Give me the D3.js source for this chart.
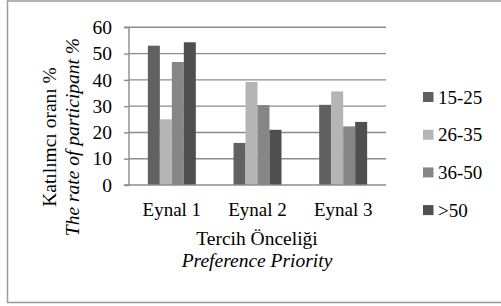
<!DOCTYPE html>
<html><head><meta charset="utf-8">
<script src="https://cdn.jsdelivr.net/npm/d3@7"></script>
<style>body{margin:0;background:#fff}svg{display:block}svg text{font-family:"Liberation Serif","Times New Roman",Tinos,"DejaVu Serif",serif !important;fill:#000}</style>
</head><body>
<script>
const categories = ["Eynal 1", "Eynal 2", "Eynal 3"];
const seriesNames = ["15-25", "26-35", "36-50", ">50"];
const s1525 = [53.0, 16.0, 30.5];
const s2635 = [25.0, 39.2, 35.6];
const s3650 = [46.8, 30.4, 22.3];
const s50 = [54.3, 21.0, 24.0];
const yTicks = [0, 10, 20, 30, 40, 50, 60];
const colors = ["#616161", "#b5b5b5", "#868686", "#4f4f4f"];
const seriesValues = [s1525, s2635, s3650, s50];

const W = 501, H = 306;
const svg = d3.select("body").append("svg").attr("width", W).attr("height", H);

// outer frame
svg.append("rect").attr("x", 7.5).attr("y", 1).attr("width", 510).attr("height", 301.5)
  .attr("fill", "none").attr("stroke", "#9a9a9a").attr("stroke-width", 1.5);

const pL = 129, pR = 386, pT = 27.3, pB = 185;
const x0 = d3.scaleBand().domain(categories).range([pL, pR]).paddingInner(0.44).paddingOuter(0.22);
const x1 = d3.scaleBand().domain(seriesNames).range([0, x0.bandwidth()]);
const y = d3.scaleLinear().domain([0, 60]).range([pB, pT]);

// gridlines
svg.append("g").selectAll("line").data(yTicks.filter(d => d > 0)).join("line")
  .attr("x1", pL).attr("x2", pR).attr("y1", d => y(d)).attr("y2", d => y(d))
  .attr("stroke", "#8c8c8c").attr("stroke-width", 1.4);

// bars
const rows = categories.map((c, i) => ({cat: c, vals: seriesNames.map((s, j) => ({s, v: seriesValues[j][i], j}))}));
svg.append("g").selectAll("g").data(rows).join("g")
  .attr("transform", d => `translate(${x0(d.cat)},0)`)
  .selectAll("rect").data(d => d.vals).join("rect")
  .attr("x", d => x1(d.s)).attr("width", x1.bandwidth())
  .attr("y", d => y(d.v)).attr("height", d => y(0) - y(d.v))
  .attr("fill", d => colors[d.j]);

// y axis
const yAxis = d3.axisLeft(y).tickValues(yTicks).tickSize(5).tickPadding(12).tickFormat(d3.format("d"));
const ga = svg.append("g").attr("transform", `translate(${pL},0)`).call(yAxis);
ga.attr("font-family", null);
ga.select(".domain").attr("stroke", "#8c8c8c").attr("stroke-width", 1.4).attr("d", `M-5,${pT}H0V${pB}H-5`);
ga.selectAll(".tick line").attr("stroke", "#8c8c8c").attr("stroke-width", 1.4);
ga.selectAll(".tick text").attr("font-size", 19.5).attr("fill", "#000");

// x axis line
svg.append("line").attr("x1", pL).attr("x2", pR).attr("y1", pB).attr("y2", pB)
  .attr("stroke", "#8c8c8c").attr("stroke-width", 1.4);

// x labels
const xAxis = d3.axisBottom(x0).tickSize(0).tickPadding(0);
const gx = svg.append("g").attr("transform", `translate(0,${pB})`).call(xAxis);
gx.attr("font-family", null);
gx.select(".domain").remove();
gx.selectAll(".tick text").attr("dy", null).attr("y", 31).attr("font-size", 19).attr("fill", "#000");

// x title
svg.append("text").attr("x", 257).attr("y", 245).attr("text-anchor", "middle").attr("font-size", 19.5).text("Tercih Önceliği");
svg.append("text").attr("x", 257).attr("y", 267).attr("text-anchor", "middle").attr("font-size", 19.5).attr("font-style", "italic").text("Preference Priority");

// y title
svg.append("text").attr("transform", "translate(56,137) rotate(-90)").attr("text-anchor", "middle").attr("font-size", 19.5).text("Katılımcı oranı %");
svg.append("text").attr("transform", "translate(79,137) rotate(-90)").attr("text-anchor", "middle").attr("font-size", 19.5).attr("font-style", "italic").text("The rate of participant %");

// legend
const lg = svg.append("g").selectAll("g").data(seriesNames).join("g")
  .attr("transform", (d, i) => `translate(423,${97 + i * 37.7})`);
lg.append("rect").attr("x", 0).attr("y", -5).attr("width", 10.5).attr("height", 10).attr("fill", (d, i) => colors[i]);
lg.append("text").attr("x", 15).attr("y", 6.5).attr("font-size", 19).text(d => d);
</script>
</body></html>
